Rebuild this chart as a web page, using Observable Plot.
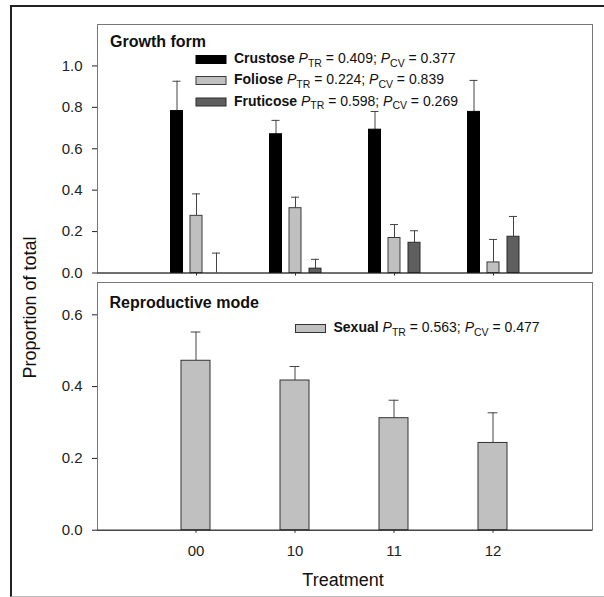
<!DOCTYPE html>
<html>
<head>
<meta charset="utf-8">
<script src="https://cdn.jsdelivr.net/npm/d3@7"></script>
<script src="https://cdn.jsdelivr.net/npm/@observablehq/plot@0.6"></script>
<style>
  html, body { margin: 0; padding: 0; background: #fff; }
  #wrap { position: relative; width: 604px; height: 597px; overflow: hidden; background: #fff;
          font-family: "Liberation Sans", Arial, Helvetica, sans-serif; }
  #border { position: absolute; left: 10px; top: 5px; width: 640px; height: 589px;
            border-top: 2px solid #222; border-left: 2px solid #222; border-bottom: 1px solid #bbb; }
  .panel { position: absolute; left: 0; }
  #overlay { position: absolute; left: 0; top: 0; pointer-events: none; }
</style>
</head>
<body>
<div id="wrap"><div id="border"></div></div>
<script>
// ---- data ----
const treatments = ["00", "10", "11", "12"];

const crustose    = [0.782, 0.670, 0.692, 0.778];
const crustoseSE  = [0.144, 0.067, 0.088, 0.152];
const foliose     = [0.276, 0.313, 0.169, 0.051];
const folioseSE   = [0.106, 0.053, 0.065, 0.111];
const fruticose   = [0.000, 0.021, 0.146, 0.175];
const fruticoseSE = [0.096, 0.045, 0.058, 0.098];

const sexual   = [0.472, 0.417, 0.312, 0.243];
const sexualSE = [0.080, 0.039, 0.050, 0.084];

const growthTicks = [0, 0.2, 0.4, 0.6, 0.8, 1.0];
const reproTicks  = [0, 0.2, 0.4, 0.6];

const formNames = ["Crustose", "Foliose", "Fruticose"];
const formPTR   = ["0.409", "0.224", "0.598"];
const formPCV   = ["0.377", "0.839", "0.269"];
const reproNames = ["Sexual"];
const reproPTR   = ["0.563"];
const reproPCV   = ["0.477"];

// ---- styles ----
const FONT = '"Liberation Sans", Arial, Helvetica, sans-serif';
const formFill   = ["#000000", "#c0c0c0", "#5f5f5f"];
const formStroke = ["#000000", "#3a3a3a", "#2a2a2a"];
const formDx     = [-19.5, 0, 20];
const sexualFill = "#c0c0c0";

const toRows = (vals, ses) => treatments.map((t, i) => ({treatment: t, value: vals[i], upper: vals[i] + ses[i]}));
const forms = [
  toRows(crustose, crustoseSE),
  toRows(foliose, folioseSE),
  toRows(fruticose, fruticoseSE)
];
const sexualRows = toRows(sexual, sexualSE);

function seriesMarks(rows, fill, stroke, dx, capInset) {
  return [
    Plot.ruleX(rows, {x: "treatment", y1: "value", y2: "upper", dx, stroke: "#444", strokeWidth: 1}),
    Plot.tickY(rows, {x: "treatment", y: "upper", dx, stroke: "#444", strokeWidth: 1,
                      insetLeft: capInset, insetRight: capInset}),
    Plot.barY(rows, {x: "treatment", y: "value", dx, fill, stroke, strokeWidth: 1})
  ];
}

const wrap = document.getElementById("wrap");

// ---- top panel: growth form ----
const topPlot = Plot.plot({
  width: 604, height: 277,
  marginLeft: 97, marginRight: 12, marginTop: 24, marginBottom: 4.5,
  style: {fontFamily: FONT, fontSize: "15px", color: "#222", background: "transparent", overflow: "visible"},
  x: {type: "band", domain: treatments, paddingInner: 0.879, paddingOuter: 0.932,
      tickSize: 3, tickFormat: () => "", label: null},
  y: {domain: [0, 1.2], ticks: growthTicks, tickFormat: d3.format(".1f"),
      tickSize: 5, tickPadding: 10, label: null},
  marks: [
    Plot.frame({stroke: "#777"}),
    ...forms.flatMap((rows, k) => seriesMarks(rows, formFill[k], formStroke[k], formDx[k], 2)),
    Plot.ruleY([0], {stroke: "#222"})
  ]
});
topPlot.classList.add("panel");
topPlot.style.top = "0px";
wrap.appendChild(topPlot);

// ---- bottom panel: reproductive mode ----
const botPlot = Plot.plot({
  width: 604, height: 320,
  marginLeft: 97, marginRight: 12, marginTop: 5, marginBottom: 67.3,
  style: {fontFamily: FONT, fontSize: "15px", color: "#222", background: "transparent", overflow: "visible"},
  x: {type: "band", domain: treatments, paddingInner: 0.705, paddingOuter: 0.845,
      tickSize: 3, tickPadding: 12, label: null},
  y: {domain: [0, 0.69], ticks: reproTicks, tickFormat: d3.format(".1f"),
      tickSize: 5, tickPadding: 10, label: null},
  marks: [
    Plot.frame({stroke: "#777"}),
    ...seriesMarks(sexualRows, sexualFill, "#333", 0, 9.6),
    Plot.ruleY([0], {stroke: "#222"})
  ]
});
botPlot.classList.add("panel");
botPlot.style.top = "277px";
wrap.appendChild(botPlot);

// ---- overlay: titles, legends, axis titles ----
const svg = d3.select(wrap).append("svg")
  .attr("id", "overlay").attr("width", 604).attr("height", 597)
  .style("font-family", FONT);

function panelTitle(text, x, y) {
  svg.append("text").attr("x", x).attr("y", y)
    .attr("font-size", 16).attr("font-weight", "bold").attr("fill", "#111").text(text);
}
panelTitle("Growth form", 110, 47.3);
panelTitle("Reproductive mode", 109.5, 308.3);

function legendRow(x, yc, fill, stroke, name, ptr, pcv) {
  svg.append("rect").attr("x", x).attr("y", yc - 4).attr("width", 30).attr("height", 8)
    .attr("fill", fill).attr("stroke", stroke).attr("stroke-width", 1);
  const t = svg.append("text").attr("x", x + 38).attr("y", yc + 3.5)
    .attr("font-size", 14).attr("fill", "#111");
  t.append("tspan").attr("font-weight", "bold").text(name + " ");
  t.append("tspan").attr("font-style", "italic").text("P");
  t.append("tspan").attr("font-size", 10.5).attr("dy", 3.5).text("TR");
  t.append("tspan").attr("dy", -3.5).text(" = " + ptr + "; ");
  t.append("tspan").attr("font-style", "italic").text("P");
  t.append("tspan").attr("font-size", 10.5).attr("dy", 3.5).text("CV");
  t.append("tspan").attr("dy", -3.5).text(" = " + pcv);
}
const formRowY = [59.5, 80.5, 102];
formNames.forEach((n, k) => legendRow(196, formRowY[k], formFill[k], formStroke[k], n, formPTR[k], formPCV[k]));
reproNames.forEach((n, k) => legendRow(295.5, 328.5, sexualFill, "#333", n, reproPTR[k], reproPCV[k]));

svg.append("text").attr("transform", "translate(35.5,307.5) rotate(-90)")
  .attr("text-anchor", "middle").attr("font-size", 18).attr("fill", "#111").text("Proportion of total");
svg.append("text").attr("x", 343).attr("y", 585.7)
  .attr("text-anchor", "middle").attr("font-size", 18).attr("fill", "#111").text("Treatment");
</script>
</body>
</html>
